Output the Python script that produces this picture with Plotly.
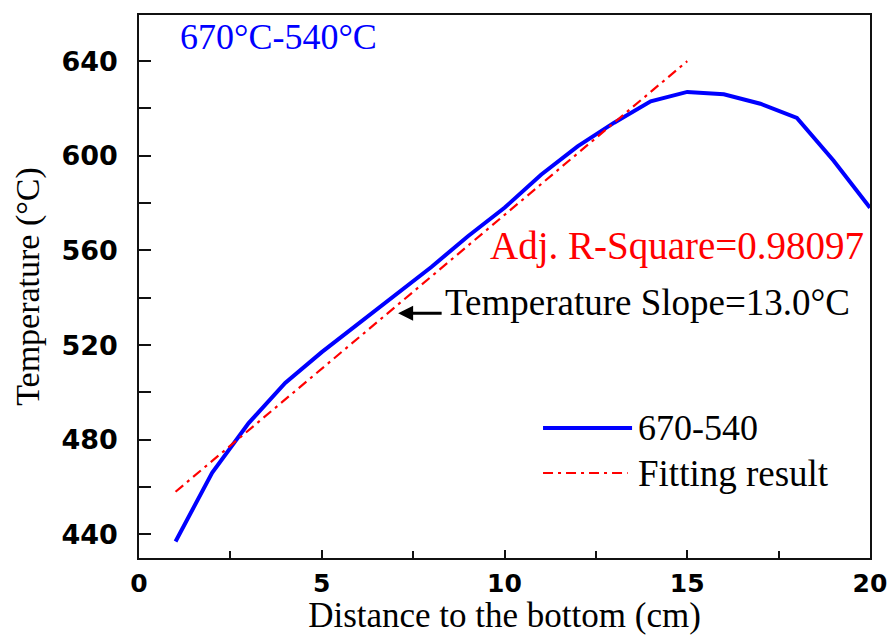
import plotly.graph_objects as go

# Data
distance = [1, 2, 3, 4, 5, 6, 7, 8, 9, 10, 11, 12, 13, 14, 15, 16, 17, 18, 19, 20]
temperature = [437, 466, 487, 504, 517, 529, 541, 553, 566, 578, 592, 604, 614, 623, 627, 626, 622, 616, 598, 578]
fit_x = [1, 15]
fit_y = [458, 640]

series_name = "670-540"
fit_name = "Fitting result"
title_text = "670\u00b0C-540\u00b0C"
r2_text = "Adj. R-Square=0.98097"
slope_text = "Temperature Slope=13.0\u00b0C"

x_ticks = [0, 5, 10, 15, 20]
y_ticks = [440, 480, 520, 560, 600, 640]

SERIF = "Liberation Serif, Times New Roman, serif"
SANSB = "DejaVu Sans, Arial, sans-serif"

fig = go.Figure()
fig.add_trace(go.Scatter(x=distance, y=temperature, mode="lines", name=series_name,
                         line=dict(color="#0000FF", width=4), showlegend=False))
fig.add_trace(go.Scatter(x=fit_x, y=fit_y, mode="lines", name=fit_name,
                         line=dict(color="#FF0000", width=2.2, dash="10px,5px,3px,5px"),
                         showlegend=False))

# Custom legend (long line samples as in the reference)
px0, px1, ptx = 0.5527, 0.6745, 0.680
py_blue, py_red = 0.2394, 0.1565
fig.add_shape(type="line", xref="paper", yref="paper", x0=px0, x1=px1, y0=py_blue, y1=py_blue,
              line=dict(color="#0000FF", width=4))
fig.add_shape(type="line", xref="paper", yref="paper", x0=px0, x1=px1 - 0.006, y0=py_red, y1=py_red,
              line=dict(color="#FF0000", width=2.2, dash="10px,5px,3px,5px"))
fig.add_annotation(xref="paper", yref="paper", x=ptx, y=py_blue, text=series_name, showarrow=False,
                   xanchor="left", yanchor="middle", font=dict(family=SERIF, size=36, color="black"))
fig.add_annotation(xref="paper", yref="paper", x=ptx, y=py_red, text=fit_name, showarrow=False,
                   xanchor="left", yanchor="middle", font=dict(family=SERIF, size=37, color="black"))

# Text annotations
fig.add_annotation(x=1.07, y=650, text=title_text, showarrow=False, xanchor="left", yanchor="middle",
                   font=dict(family=SERIF, size=36, color="#0000FF"))
fig.add_annotation(x=9.55, y=562, text=r2_text, showarrow=False, xanchor="left", yanchor="middle",
                   font=dict(family=SERIF, size=39, color="#FF0000"))
fig.add_annotation(x=8.32, y=538, text=slope_text, showarrow=False, xanchor="left", yanchor="middle",
                   font=dict(family=SERIF, size=37, color="black"))
fig.add_annotation(x=7.09, y=533.4, ax=45, ay=0, text="", showarrow=True, arrowhead=2,
                   arrowsize=1, arrowwidth=3, arrowcolor="black")

axis_common = dict(showline=True, linecolor="#111", linewidth=1.5, mirror=True, ticks="inside",
                   tickcolor="#111", tickwidth=1.5, showgrid=False, zeroline=False, automargin=False)

fig.update_xaxes(range=[0, 20], tickvals=x_ticks, ticklen=8,
                 minor=dict(ticks="inside", dtick=2.5, tick0=0, ticklen=7, tickcolor="#111", tickwidth=1.5),
                 tickfont=dict(family=SANSB, size=25, color="black", weight="bold"),
                 ticklabelstandoff=2,
                 title=dict(text="Distance to the bottom (cm)", font=dict(family=SERIF, size=35, color="black"),
                            standoff=0),
                 **axis_common)
fig.update_yaxes(range=[430, 659.5], tickvals=y_ticks, ticklen=12,
                 minor=dict(ticks="inside", dtick=20, tick0=440, ticklen=12, tickcolor="#111", tickwidth=1.5),
                 tickfont=dict(family=SANSB, size=27, color="black", weight="bold"),
                 ticklabelstandoff=14,
                 title=dict(text="Temperature (\u00b0C)", font=dict(family=SERIF, size=34, color="black"),
                            standoff=12),
                 **axis_common)

fig.update_layout(width=889, height=635, margin=dict(l=139, r=19, t=15, b=77),
                  plot_bgcolor="white", paper_bgcolor="white", showlegend=False)

# remove the page's default body margin so the figure fills the window exactly
fig.write_html("out.html", config={"displayModeBar": False},
               post_script="document.body.style.margin='0';document.body.style.overflow='hidden';")
